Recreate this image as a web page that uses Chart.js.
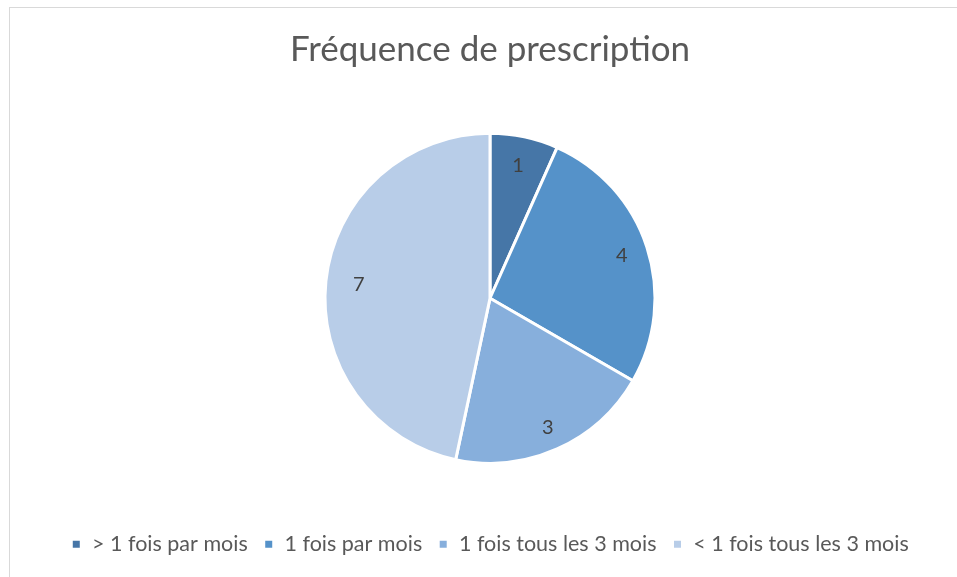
<!DOCTYPE html>
<html>
<head>
<meta charset="utf-8">
<script src="https://cdn.jsdelivr.net/npm/chart.js@4"></script>
<style>
  body { margin: 0; background: #fff; overflow: hidden; }
  #frame { position: absolute; left: 9px; top: 7px; width: 1200px; height: 1200px; border: 1px solid #d9d9d9; }
  #wrap { position: absolute; left: 0; top: 0; width: 957px; height: 577px; }
</style>
</head>
<body>
<div id="frame"></div>
<div id="wrap"><canvas id="pieChart" width="957" height="577"></canvas></div>
<script>
var categories = ["> 1 fois par mois", "1 fois par mois", "1 fois tous les 3 mois", "< 1 fois tous les 3 mois"];
var counts = [1, 4, 3, 7];
var sliceColors = ["#4676a7", "#5592c9", "#87afdc", "#b8cde8"];

// how far out each label sits, as a share of the radius
var labelReach = [0.82, 0.84, 0.86, 0.8];

// labels inside slices, like the Excel data labels
var sliceLabels = {
  id: "sliceLabels",
  afterDatasetsDraw: function (chart) {
    var ctx = chart.ctx;
    var meta = chart.getDatasetMeta(0);
    ctx.save();
    ctx.font = "20px Lato";
    ctx.fillStyle = "#404040";
    ctx.textAlign = "center";
    ctx.textBaseline = "middle";
    meta.data.forEach(function (arc, i) {
      var mid = (arc.startAngle + arc.endAngle) / 2;
      var r = arc.outerRadius * labelReach[i];
      ctx.fillText(String(counts[i]), arc.x + Math.cos(mid) * r, arc.y + Math.sin(mid) * r);
    });
    ctx.restore();
  }
};

var ctx = document.getElementById("pieChart").getContext("2d");
var pieChart = new Chart(ctx, {
  type: "pie",
  data: {
    labels: categories,
    datasets: [
      {
        data: counts,
        backgroundColor: sliceColors,
        borderColor: "#ffffff",
        borderWidth: 3,
        radius: 165,
      },
    ],
  },
  options: {
    responsive: false,
    animation: false,
    layout: { padding: { left: 23, right: 0, top: 0, bottom: 12 } },
    plugins: {
      title: {
        display: true,
        text: "Fréquence de prescription",
        color: "#595959",
        font: { family: "Lato", size: 35, weight: "normal" },
        padding: { top: 29, bottom: 8 },
      },
      legend: {
        position: "bottom",
        labels: {
          color: "#595959",
          font: { family: "Lato", size: 21.5 },
          boxWidth: 10,
          boxHeight: 10,
          padding: 16,
        },
      },
      tooltip: { enabled: false },
    },
  },
  plugins: [sliceLabels],
});
</script>
</body>
</html>
